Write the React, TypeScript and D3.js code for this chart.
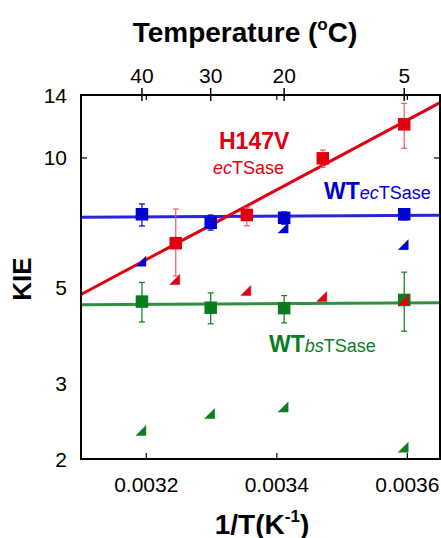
import React from "react";
import * as d3 from "d3";

// ---- data ----
const wtEcTemps = [40, 30, 20, 5];
const wtEcKIE = [7.4, 7.07, 7.26, 7.4];
const wtEcHi = [7.82, 7.37, 7.49, 7.61];
const wtEcLo = [6.95, 6.8, 7.02, 7.18];

const h147Temps = [35, 25, 15, 5];
const h147KIE = [6.34, 7.37, 9.98, 11.97];
const h147Hi = [7.61, 7.66, 10.43, 13.39];
const h147Lo = [5.32, 6.96, 9.51, 10.53];

const wtBsTemps = [40, 30, 20, 5];
const wtBsKIE = [4.64, 4.49, 4.48, 4.68];
const wtBsHi = [5.14, 4.86, 4.79, 5.43];
const wtBsLo = [4.16, 4.12, 4.14, 3.96];

const wtEcTriTemps = [40, 20, 5];
const wtEcTriKIE = [5.76, 6.88, 6.29];
const h147TriTemps = [35, 25, 15, 5];
const h147TriKIE = [5.22, 4.92, 4.77, 4.68];
const wtBsTriTemps = [40, 30, 20, 5];
const wtBsTriKIE = [2.33, 2.55, 2.64, 2.13];

// fit lines: [invT, KIE] at domain ends
const fitInvT = [0.0031, 0.00365];
const h147Fit = [4.82, 13.44];
const wtEcFit = [7.28, 7.36];
const wtBsFit = [4.56, 4.61];

const xTicks = [0.0032, 0.0034, 0.0036];
const yTicks = [2, 3, 5, 10, 14];
const tempTicks = [40, 30, 20, 5];

const RED = "#e00010";
const RED_LIGHT = "#ec5a64";
const BLUE = "#0000d0";
const GREEN = "#0a7d1e";

const FONT = "'Liberation Sans', Arial, Helvetica, sans-serif";

const toInv = (t: number) => 1 / (t + 273.15);

export default function App() {
  const left = 81, right = 440, top = 95, bottom = 459;
  const x = d3.scaleLinear().domain([0.0031, 0.00365]).range([left, right]);
  const y = d3.scaleLog().domain([2, 14]).range([bottom, top]);
  const line = d3
    .line<[number, number]>()
    .x((d) => x(d[0]))
    .y((d) => y(d[1]));

  const fitPath = (vals: number[]) =>
    line(fitInvT.map((t, i) => [t, vals[i]] as [number, number])) || "";

  const sq = 12.5;
  const renderSeries = (
    temps: number[],
    kie: number[],
    hi: number[],
    lo: number[],
    color: string,
    errColor: string,
    key: string
  ) => (
    <g key={key}>
      {temps.map((t, i) => {
        const cx = x(toInv(t));
        return (
          <g key={i} stroke={errColor} strokeWidth={1.2}>
            <line x1={cx} x2={cx} y1={y(hi[i])} y2={y(lo[i])} />
            <line x1={cx - 3} x2={cx + 3} y1={y(hi[i])} y2={y(hi[i])} />
            <line x1={cx - 3} x2={cx + 3} y1={y(lo[i])} y2={y(lo[i])} />
          </g>
        );
      })}
      {temps.map((t, i) => (
        <rect
          key={"s" + i}
          x={x(toInv(t)) - sq / 2}
          y={y(kie[i]) - sq / 2}
          width={sq}
          height={sq}
          fill={color}
        />
      ))}
    </g>
  );

  const renderTri = (temps: number[], kie: number[], color: string, key: string) => (
    <g key={key}>
      {temps.map((t, i) => {
        const cx = x(toInv(t)) - 1;
        const cy = y(kie[i]);
        const s = 5;
        return (
          <path
            key={i}
            d={`M${cx - s},${cy + s}L${cx + s},${cy - s}L${cx + s},${cy + s}Z`}
            fill={color}
            stroke={color}
            strokeOpacity={0.6}
            strokeWidth={0.8}
          />
        );
      })}
    </g>
  );

  return (
    <svg
      width={441}
      height={538}
      style={{ position: "absolute", left: 0, top: 0, background: "#fff" }}
      fontFamily={FONT}
    >
      <rect width={441} height={538} fill="#fff" />
      {/* fit lines */}
      <path d={fitPath(wtEcFit)} stroke={BLUE} strokeWidth={3} fill="none" strokeOpacity={0.85} />
      <path d={fitPath(wtBsFit)} stroke={GREEN} strokeWidth={3} fill="none" strokeOpacity={0.85} />
      <path d={fitPath(h147Fit)} stroke={RED} strokeWidth={3} fill="none" />

      {renderSeries(wtEcTemps, wtEcKIE, wtEcHi, wtEcLo, BLUE, BLUE, "b")}
      {renderSeries(wtBsTemps, wtBsKIE, wtBsHi, wtBsLo, GREEN, GREEN, "g")}
      {renderSeries(h147Temps, h147KIE, h147Hi, h147Lo, RED, RED_LIGHT, "r")}

      {renderTri(wtEcTriTemps, wtEcTriKIE, BLUE, "tb")}
      {renderTri(wtBsTriTemps, wtBsTriKIE, GREEN, "tg")}
      {renderTri(h147TriTemps, h147TriKIE, RED, "tr")}

      {/* frame */}
      <rect x={left} y={top} width={right - left} height={bottom - top} fill="none" stroke="#000" strokeWidth={2} />

      {/* bottom ticks + mirrored on top */}
      {xTicks.map((t) => (
        <g key={t} stroke="#000" strokeWidth={1.2}>
          <line x1={x(t)} x2={x(t)} y1={bottom} y2={bottom - 6} />
          <line x1={x(t)} x2={x(t)} y1={top} y2={top + 5} />
        </g>
      ))}
      {xTicks.map((t) => (
        <text key={"xl" + t} x={x(t)} y={492} fontSize={21} textAnchor="middle" fill="#000">
          {t.toFixed(4)}
        </text>
      ))}

      {/* top temperature ticks */}
      {tempTicks.map((t) => (
        <g key={"tt" + t}>
          <line x1={x(toInv(t))} x2={x(toInv(t))} y1={88} y2={101} stroke="#000" strokeWidth={1.5} />
          <text x={x(toInv(t))} y={82.5} fontSize={21} textAnchor="middle" fill="#000">
            {t}
          </text>
        </g>
      ))}

      {/* y ticks */}
      {[10].map((v) => (
        <g key={"yt" + v} stroke="#000" strokeWidth={1.2}>
          <line x1={left} x2={left + 6} y1={y(v)} y2={y(v)} />
          <line x1={right} x2={right - 6} y1={y(v)} y2={y(v)} />
        </g>
      ))}
      {yTicks.map((v) => (
        <text key={"yl" + v} x={67} y={y(v) + 7.5} fontSize={21} textAnchor="end" fill="#000">
          {v}
        </text>
      ))}

      {/* axis titles */}
      <text x={245} y={42} fontSize={28} fontWeight="bold" textAnchor="middle" fill="#000">
        Temperature (<tspan fontSize={17} dy={-12}>o</tspan>
        <tspan dy={12}>C)</tspan>
      </text>
      <text x={262} y={534} fontSize={28} fontWeight="bold" textAnchor="middle" fill="#000">
        1/T(K<tspan fontSize={17} dy={-12}>-1</tspan>
        <tspan dy={12}>)</tspan>
      </text>
      <text
        transform="translate(31,279) rotate(-90)"
        fontSize={26}
        fontWeight="bold"
        textAnchor="middle"
        fill="#000"
      >
        KIE
      </text>

      {/* legends */}
      <text x={219} y={148.5} fontSize={23} fontWeight="bold" fill={RED}>
        H147V
      </text>
      <text x={213} y={173.5} fontSize={18} fill={RED}>
        <tspan fontStyle="italic">ec</tspan>TSase
      </text>
      <text x={324} y={198.5} fill={BLUE}>
        <tspan fontSize={23} fontWeight="bold">WT</tspan>
        <tspan fontSize={18} fontStyle="italic">ec</tspan>
        <tspan fontSize={18}>TSase</tspan>
      </text>
      <text x={269} y={352} fill={GREEN}>
        <tspan fontSize={23} fontWeight="bold">WT</tspan>
        <tspan fontSize={18} fontStyle="italic">bs</tspan>
        <tspan fontSize={18}>TSase</tspan>
      </text>
    </svg>
  );
}
